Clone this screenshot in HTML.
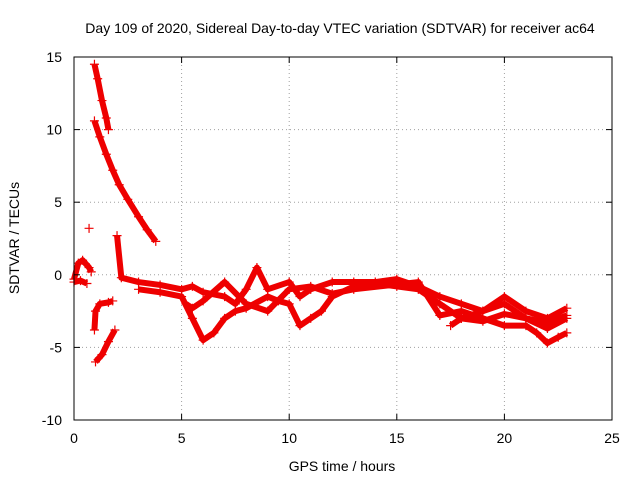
<!DOCTYPE html>
<html><head><meta charset="utf-8"><style>
body{margin:0;background:#fff}
svg{display:block;font-family:"Liberation Sans",sans-serif;font-size:14px}
</style></head><body>
<svg id="chart" width="640" height="480">
<text x="340" y="33" text-anchor="middle">Day 109 of 2020, Sidereal Day-to-day VTEC variation (SDTVAR) for receiver ac64</text>
<text x="342" y="471" text-anchor="middle">GPS time / hours</text>
<text transform="translate(19,238) rotate(-90)" text-anchor="middle">SDTVAR / TECUs</text>
<g id="grid"></g><g id="marks"></g><g id="axes"></g>
</svg>
<script>
const xTicks=[0,5,10,15,20,25];
const yTicks=[15,10,5,0,-5,-10];
const trackA_t=[0.95,1.1,1.3,1.5,1.6];
const trackA_v=[14.5,13.5,12,10.8,10];
const trackB_t=[0.95,1.2,1.5,1.8,2.1,2.5,3,3.4,3.8];
const trackB_v=[10.6,9.5,8.3,7.2,6.2,5.2,4,3.1,2.3];
const trackC_t=[1.0,1.3,1.6,1.9];
const trackC_v=[-6,-5.5,-4.6,-3.8];
const trackD_t=[0.95,1.0,1.2,1.6,1.8];
const trackD_v=[-3.8,-2.5,-2,-1.9,-1.8];
const trackE_t=[0,0.2,0.4,0.7,0.8];
const trackE_v=[-0.3,0.8,1,0.5,0.2];
const trackF_t=[0,0.3,0.6];
const trackF_v=[-0.5,-0.4,-0.6];
const trackG_t=[2,2.2,3,4,5,5.5,6,7,7.5,8,8.5,9,10,10.5,11,12,13,14,15,16,17,18,19,20,21,22,22.9];
const trackG_v=[2.7,-0.2,-0.5,-0.7,-1,-0.8,-1.2,-1.5,-2,-1,0.5,-1,-0.5,-1.5,-1,-0.5,-0.5,-0.5,-0.3,-0.8,-1.5,-2,-2.5,-1.5,-2.5,-3,-2.3];
const trackH_t=[3,4,5,5.5,6,6.5,7,7.5,8,9,9.5,10,10.5,11,11.5,12,13,14,15,16,17,18,19,20,21,22,22.9];
const trackH_v=[-1,-1.2,-1.5,-3,-4.5,-4,-3,-2.5,-2.3,-1.5,-1.8,-2,-3.5,-3,-2.5,-1.5,-0.8,-0.6,-0.8,-1,-2,-3,-2.5,-2,-3,-3.3,-2.8];
const trackI_t=[5.2,5.5,6,7,8,9,10,11,12,13,16,17,18,19,20,21,21.5,22,22.5,22.9];
const trackI_v=[-2,-2.3,-1.8,-0.5,-2,-2.5,-1,-0.8,-1.3,-1,-0.5,-2.8,-2.5,-3,-3.5,-3.5,-4,-4.7,-4.3,-4];
const trackJ_t=[17.5,18,19,20,21,22,22.9];
const trackJ_v=[-3.5,-3,-3.2,-2.7,-3,-3.7,-3];
const single_t=[0.7];
const single_v=[3.2];
const X0=74,X1=612,Y0=57,Y1=420;
const xs=t=>X0+(t-0)/25*(X1-X0);
const ys=v=>Y1-(v+10)/25*(Y1-Y0);
const NS="http://www.w3.org/2000/svg";
const grid=document.getElementById('grid'),axes=document.getElementById('axes'),marks=document.getElementById('marks');
function mk(tag,attrs,parent){const e=document.createElementNS(NS,tag);for(const k in attrs)e.setAttribute(k,attrs[k]);parent.appendChild(e);return e;}
xTicks.forEach(t=>{const x=xs(t);
 if(t>0&&t<25){const g=mk('line',{x1:x,x2:x,y1:Y0,y2:Y1,stroke:'#a0a0a0','stroke-dasharray':'1,3'},grid);
 
 }
 mk('line',{x1:x,x2:x,y1:Y1,y2:Y1-6,stroke:'#000'},axes);
 mk('line',{x1:x,x2:x,y1:Y0,y2:Y0+6,stroke:'#000'},axes);
 const l=mk('text',{x:x,y:443,'text-anchor':'middle'},axes);l.textContent=t;
 
 
});
yTicks.forEach(v=>{const y=ys(v);
 if(v>-10&&v<15){const g=mk('line',{x1:X0,x2:X1,y1:y,y2:y,stroke:'#a0a0a0','stroke-dasharray':'1,3'},grid);
 
 }
 mk('line',{x1:X0,x2:X0+6,y1:y,y2:y,stroke:'#000'},axes);
 mk('line',{x1:X1,x2:X1-6,y1:y,y2:y,stroke:'#000'},axes);
 const l=mk('text',{x:62,y:y+5,'text-anchor':'end'},axes);l.textContent=v;
 
 
});
const frame=mk('rect',{x:X0,y:Y0,width:X1-X0,height:Y1-Y0,fill:'none',stroke:'#000'},axes);


const tracks=[[trackA_t,trackA_v],[trackB_t,trackB_v],[trackC_t,trackC_v],[trackD_t,trackD_v],[trackE_t,trackE_v],[trackF_t,trackF_v],[trackG_t,trackG_v],[trackH_t,trackH_v],[trackI_t,trackI_v],[trackJ_t,trackJ_v],[single_t,single_v]];
tracks.forEach(([T,V])=>{
 if(T.length>1){const p=mk('polyline',{points:T.map((t,i)=>xs(t)+','+ys(V[i])).join(' '),fill:'none',stroke:'#ee0000','stroke-width':6,'stroke-linejoin':'round'},marks);
 
 }
 T.forEach((t,i)=>{const x=xs(t),y=ys(V[i]);
  const m=mk('path',{d:`M${x-4.5},${y}H${x+4.5}M${x},${y-4.5}V${y+4.5}`,stroke:'#ee0000','stroke-width':1.2},marks);
  
  
 });
});
</script>
</body></html>
